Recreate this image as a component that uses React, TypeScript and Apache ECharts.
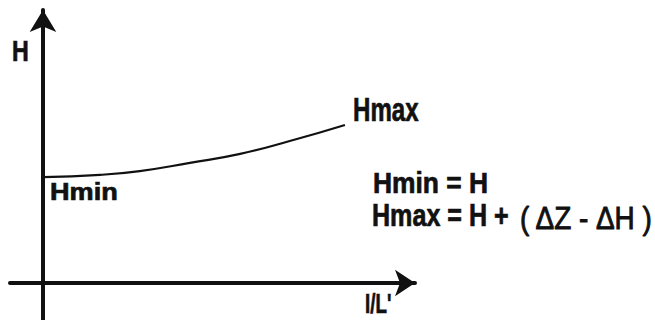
import React, { useEffect, useRef } from "react";
import * as echarts from "echarts";

const curveX = [0, 0.92, 1.56, 2.37, 3.18, 3.98, 4.87];
const curveY = [3.88, 3.96, 4.1, 4.4, 4.73, 5.2, 5.79];
const xRange = [-0.532, 6];
const yRange = [-1.355, 10];
const labels = ["H", "Hmin", "Hmax", "Hmin = H", "Hmax = H +", "( ΔZ - ΔH )", "I/L'"];

export default function App() {
  const ref = useRef<HTMLDivElement>(null);
  useEffect(() => {
    document.body.style.margin = "0";
    const chart = echarts.init(ref.current!, null, { renderer: "svg" });
    const font = "'Liberation Sans', Arial, sans-serif";
    const txt = (text: string, x: number, y: number, size: number, sx: number, weight = "bold", sw = 0.7) => ({
      type: "text",
      x,
      y,
      scaleX: sx,
      style: {
        text,
        x: 0,
        y: 0,
        fill: "#111",
        stroke: "#111",
        lineWidth: sw,
        font: `${weight} ${size}px ${font}`,
        align: "left",
        verticalAlign: "middle",
      },
    });
    chart.setOption({
      animation: false,
      backgroundColor: "#fff",
      grid: { left: 10, right: 240, top: 10, bottom: 0 },
      xAxis: {
        type: "value",
        min: xRange[0],
        max: xRange[1],
        axisLine: {
          show: true,
          onZero: true,
          symbol: ["none", "arrow"],
          symbolSize: [20, 20],
          lineStyle: { color: "#111", width: 4 },
        },
        axisTick: { show: false },
        axisLabel: { show: false },
        splitLine: { show: false },
      },
      yAxis: {
        type: "value",
        min: yRange[0],
        max: yRange[1],
        axisLine: {
          show: true,
          onZero: true,
          symbol: ["none", "arrow"],
          symbolSize: [20, 22],
          lineStyle: { color: "#111", width: 4 },
        },
        axisTick: { show: false },
        axisLabel: { show: false },
        splitLine: { show: false },
      },
      series: [
        {
          type: "line",
          data: curveX.map((x, i) => [x, curveY[i]]),
          smooth: true,
          showSymbol: false,
          lineStyle: { color: "#111", width: 2.2 },
        },
      ],
      graphic: [
        txt(labels[0], 12, 51, 29, 0.8),
        txt(labels[1], 50, 192, 24, 1.13),
        txt(labels[2], 353, 110, 33, 0.73),
        txt(labels[3], 373, 183, 29, 0.91),
        txt(labels[4], 372, 215, 31, 0.81),
        txt(labels[5], 520, 218, 31, 0.9, "normal", 0.9),
        txt(labels[6], 365, 303, 28, 0.67),
      ],
    });
    return () => chart.dispose();
  }, []);
  return <div ref={ref} style={{ width: 655, height: 320 }} />;
}
